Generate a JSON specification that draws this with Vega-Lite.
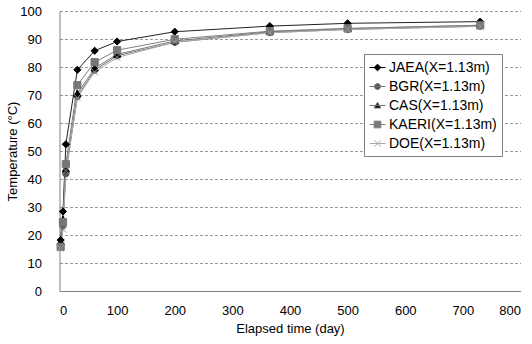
{
  "$schema": "https://vega.github.io/schema/vega-lite/v6.json",
  "width": 461,
  "height": 280,
  "autosize": "none",
  "padding": {"left": 59.5, "top": 11, "right": 11.5, "bottom": 53},
  "background": "white",
  "config": {
    "font": "Liberation Sans",
    "view": {"stroke": null},
    "axis": {
      "labelFont": "Liberation Sans",
      "labelFontSize": 13,
      "labelColor": "#000000",
      "labelOverlap": false,
      "titleFont": "Liberation Sans",
      "titleFontSize": 13,
      "titleFontWeight": "normal",
      "titleColor": "#000000",
      "domainColor": "#808080",
      "tickColor": "#808080"
    },
    "legend": {
      "labelFont": "Liberation Sans",
      "labelFontSize": 14,
      "labelColor": "#000000",
      "strokeColor": "#808080",
      "fillColor": "#ffffff",
      "padding": 5,
      "rowPadding": 3,
      "symbolSize": 256,
      "symbolStrokeWidth": 1,
      "symbolOpacity": 1,
      "labelOffset": 3
    }
  },
  "data": {
    "values": [
      {"series": "JAEA", "t": 2, "temp": 18.2},
      {"series": "JAEA", "t": 6, "temp": 28.4},
      {"series": "JAEA", "t": 11, "temp": 52.4},
      {"series": "JAEA", "t": 31, "temp": 79.0},
      {"series": "JAEA", "t": 61, "temp": 85.8},
      {"series": "JAEA", "t": 100, "temp": 89.1},
      {"series": "JAEA", "t": 200, "temp": 92.6},
      {"series": "JAEA", "t": 365, "temp": 94.6},
      {"series": "JAEA", "t": 500, "temp": 95.6},
      {"series": "JAEA", "t": 730, "temp": 96.2},
      {"series": "BGR", "t": 2, "temp": 16.5},
      {"series": "BGR", "t": 6, "temp": 23.2},
      {"series": "BGR", "t": 11, "temp": 41.9},
      {"series": "BGR", "t": 31, "temp": 69.5},
      {"series": "BGR", "t": 61, "temp": 78.9},
      {"series": "BGR", "t": 100, "temp": 84.0},
      {"series": "BGR", "t": 200, "temp": 88.8},
      {"series": "BGR", "t": 365, "temp": 92.3},
      {"series": "BGR", "t": 500, "temp": 93.4},
      {"series": "BGR", "t": 730, "temp": 94.6},
      {"series": "CAS", "t": 2, "temp": 17.5},
      {"series": "CAS", "t": 6, "temp": 25.5},
      {"series": "CAS", "t": 11, "temp": 43.5},
      {"series": "CAS", "t": 31, "temp": 70.5},
      {"series": "CAS", "t": 61, "temp": 79.6},
      {"series": "CAS", "t": 100, "temp": 84.5},
      {"series": "CAS", "t": 200, "temp": 89.3},
      {"series": "CAS", "t": 365, "temp": 92.6},
      {"series": "CAS", "t": 500, "temp": 93.7},
      {"series": "CAS", "t": 730, "temp": 94.9},
      {"series": "KAERI", "t": 2, "temp": 15.8},
      {"series": "KAERI", "t": 6, "temp": 24.6},
      {"series": "KAERI", "t": 11, "temp": 45.3},
      {"series": "KAERI", "t": 31, "temp": 73.5},
      {"series": "KAERI", "t": 61, "temp": 81.7},
      {"series": "KAERI", "t": 100, "temp": 86.0},
      {"series": "KAERI", "t": 200, "temp": 89.9},
      {"series": "KAERI", "t": 365, "temp": 92.8},
      {"series": "KAERI", "t": 500, "temp": 93.8},
      {"series": "KAERI", "t": 730, "temp": 94.9},
      {"series": "DOE", "t": 2, "temp": 15.2},
      {"series": "DOE", "t": 6, "temp": 22.0},
      {"series": "DOE", "t": 11, "temp": 43.0},
      {"series": "DOE", "t": 31, "temp": 69.0},
      {"series": "DOE", "t": 61, "temp": 78.2},
      {"series": "DOE", "t": 100, "temp": 83.4},
      {"series": "DOE", "t": 200, "temp": 88.9},
      {"series": "DOE", "t": 365, "temp": 92.2},
      {"series": "DOE", "t": 500, "temp": 93.4},
      {"series": "DOE", "t": 730, "temp": 94.5}
    ]
  },
  "encoding": {
    "x": {
      "field": "t", "type": "quantitative",
      "scale": {"domain": [0, 800], "nice": false},
      "axis": {
        "title": "Elapsed time (day)",
        "values": [0, 100, 200, 300, 400, 500, 600, 700, 800],
        "grid": false,
        "ticks": false,
        "labelPadding": 13,
        "titlePadding": 5
      }
    },
    "y": {
      "field": "temp", "type": "quantitative",
      "scale": {"domain": [0, 100], "nice": false},
      "axis": {
        "title": "Temperature (°C)",
        "values": [0, 10, 20, 30, 40, 50, 60, 70, 80, 90, 100],
        "grid": true,
        "gridColor": "#999999",
        "gridDash": [3, 2],
        "ticks": false,
        "labelPadding": 18,
        "titleX": -40
      }
    }
  },
  "layer": [
    {
      "data": {"values": [{}]},
      "mark": {"type": "rule", "color": "#808080", "strokeWidth": 1},
      "encoding": {
        "x": {"datum": 800, "type": "quantitative"},
        "y": {"datum": 0, "type": "quantitative"},
        "y2": {"datum": 100}
      }
    },
    {
      "data": {"values": [{"tick": 100}, {"tick": 200}, {"tick": 300}, {"tick": 400}, {"tick": 500}, {"tick": 600}, {"tick": 700}]},
      "mark": {"type": "rule", "color": "#808080", "strokeWidth": 1},
      "encoding": {
        "x": {"field": "tick", "type": "quantitative"},
        "y": {"datum": 0, "type": "quantitative"},
        "y2": {"datum": 1.8}
      }
    },
    {
      "mark": {"type": "line", "strokeWidth": 1},
      "encoding": {
        "color": {
          "field": "series", "type": "nominal",
          "scale": {
            "domain": ["JAEA", "BGR", "CAS", "KAERI", "DOE"],
            "range": ["#222222", "#777777", "#777777", "#808080", "#aaaaaa"]
          },
          "legend": null
        }
      }
    },
    {
      "mark": {"type": "point", "filled": true, "size": 64, "strokeWidth": 1, "opacity": 1},
      "encoding": {
        "shape": {
          "field": "series", "type": "nominal",
          "scale": {
            "domain": ["JAEA", "BGR", "CAS", "KAERI", "DOE"],
            "range": [
              "M0,-0.9L0.9,0L0,0.9L-0.9,0Z",
              "M-0.8,0A0.8,0.8 0 1,0 0.8,0A0.8,0.8 0 1,0 -0.8,0Z",
              "M0,-0.9L0.9,0.7L-0.9,0.7Z",
              "M-0.9,-0.9H0.9V0.9H-0.9Z",
              "M-0.8,-0.8L0.8,0.8M-0.8,0.8L0.8,-0.8"
            ]
          },
          "legend": null
        },
        "fill": {
          "field": "series", "type": "nominal",
          "scale": {
            "domain": ["JAEA", "BGR", "CAS", "KAERI", "DOE"],
            "range": ["#000000", "#555555", "#000000", "#777777", "transparent"]
          },
          "legend": null
        },
        "stroke": {
          "field": "series", "type": "nominal",
          "scale": {
            "domain": ["JAEA", "BGR", "CAS", "KAERI", "DOE"],
            "range": ["#000000", "#555555", "#000000", "#777777", "#999999"]
          },
          "legend": null
        }
      }
    },
    {
      "mark": {"type": "point", "filled": true, "opacity": 0},
      "encoding": {
        "shape": {
          "field": "series", "type": "nominal",
          "scale": {
            "domain": ["JAEA", "BGR", "CAS", "KAERI", "DOE"],
            "range": [
              "M-1,0L1,0M0,-0.42L0.42,0L0,0.42L-0.42,0Z",
              "M-1,0L1,0M-0.38,0A0.38,0.38 0 1,0 0.38,0A0.38,0.38 0 1,0 -0.38,0Z",
              "M-1,0L1,0M0,-0.4L0.42,0.32L-0.42,0.32Z",
              "M-1,0L1,0M-0.42,-0.42H0.42V0.42H-0.42Z",
              "M-1,0L1,0M-0.4,-0.4L0.4,0.4M-0.4,0.4L0.4,-0.4"
            ]
          },
          "legend": {
            "title": null,
            "orient": "none",
            "legendX": 304.5,
            "legendY": 43,
            "labelExpr": "datum.label + '(X=1.13m)'"
          }
        },
        "fill": {
          "field": "series", "type": "nominal",
          "scale": {
            "domain": ["JAEA", "BGR", "CAS", "KAERI", "DOE"],
            "range": ["#000000", "#555555", "#000000", "#777777", "transparent"]
          },
          "legend": {
            "title": null,
            "orient": "none",
            "legendX": 304.5,
            "legendY": 43,
            "labelExpr": "datum.label + '(X=1.13m)'"
          }
        },
        "stroke": {
          "field": "series", "type": "nominal",
          "scale": {
            "domain": ["JAEA", "BGR", "CAS", "KAERI", "DOE"],
            "range": ["#000000", "#777777", "#777777", "#808080", "#aaaaaa"]
          },
          "legend": {
            "title": null,
            "orient": "none",
            "legendX": 304.5,
            "legendY": 43,
            "labelExpr": "datum.label + '(X=1.13m)'"
          }
        }
      }
    }
  ],
  "resolve": {
    "scale": {"shape": "independent", "fill": "independent", "stroke": "independent"}
  }
}
